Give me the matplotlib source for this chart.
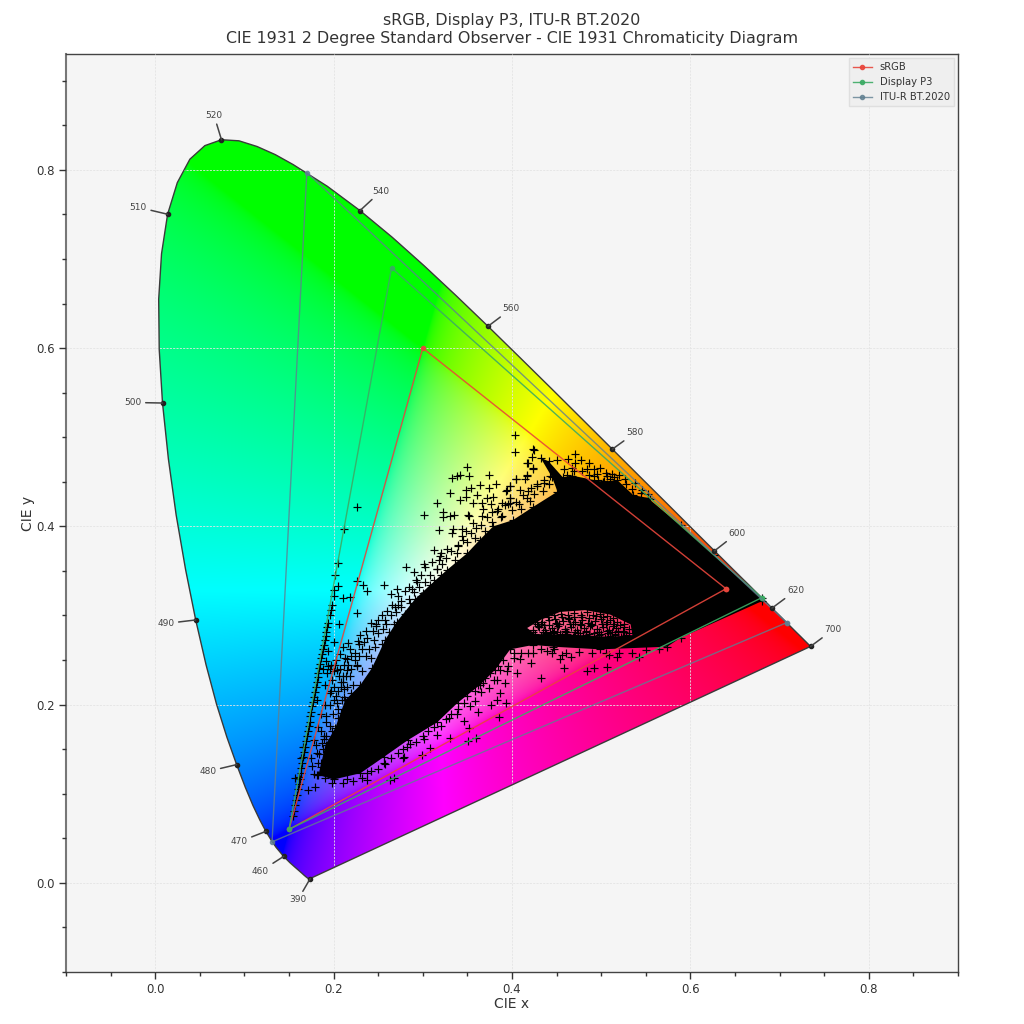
import numpy as np
import matplotlib
matplotlib.use("Agg")
import matplotlib.pyplot as plt
from matplotlib.patches import PathPatch, Polygon
from matplotlib.path import Path
from matplotlib.ticker import MultipleLocator

# CIE 1931 2 degree spectral locus, 390-700 nm
locus_x = [0.1738, 0.1736, 0.1733, 0.1730, 0.1726, 0.1721, 0.1714, 0.1703, 0.1689, 0.1669, 0.1644,
           0.1611, 0.1566, 0.1510, 0.1440, 0.1355, 0.1302, 0.1241, 0.1173, 0.1096, 0.1010, 0.0913, 0.0803,
           0.0687, 0.0570, 0.0454, 0.0340, 0.0235, 0.0148,
           0.0082, 0.0045, 0.0039, 0.0071, 0.0139, 0.0248, 0.0389, 0.0557, 0.0743, 0.0939, 0.1142, 0.1346,
           0.1547, 0.1929, 0.2296, 0.2658, 0.3016,
           0.3373, 0.3731, 0.4087, 0.4441, 0.4788, 0.5125, 0.5448, 0.5752, 0.6029, 0.6270, 0.6482,
           0.6658, 0.6801, 0.6915, 0.7006, 0.7079, 0.7140, 0.7190, 0.7230, 0.7260, 0.7283, 0.7300,
           0.7311, 0.7320, 0.7327, 0.7334, 0.7340, 0.7344, 0.7346, 0.7347]
locus_y = [0.0049, 0.0049, 0.0048, 0.0048, 0.0048, 0.0048, 0.0051, 0.0058, 0.0069, 0.0086, 0.0109,
           0.0138, 0.0177, 0.0227, 0.0297, 0.0399, 0.0477, 0.0578, 0.0706, 0.0868, 0.1073, 0.1327, 0.1637,
           0.2007, 0.2447, 0.2950, 0.3519, 0.4127, 0.4756,
           0.5384, 0.5985, 0.6548, 0.7059, 0.7502, 0.7857, 0.8120, 0.8272, 0.8338, 0.8326, 0.8262, 0.8171,
           0.8059, 0.7816, 0.7543, 0.7243, 0.6923,
           0.6589, 0.6245, 0.5896, 0.5547, 0.5202, 0.4866, 0.4544, 0.4242, 0.3965, 0.3725, 0.3514,
           0.3340, 0.3197, 0.3083, 0.2993, 0.2920, 0.2859, 0.2809, 0.2770, 0.2740, 0.2717, 0.2700,
           0.2689, 0.2680, 0.2673, 0.2666, 0.2660, 0.2656, 0.2654, 0.2653]

# labelled wavelengths: point on the locus and where the text sits
wl_labels = [390, 460, 470, 480, 490, 500, 510, 520, 540, 560, 580, 600, 620, 700]
wl_x = [0.1738, 0.1440, 0.1241, 0.0913, 0.0454, 0.0082, 0.0139, 0.0743, 0.2296, 0.3731, 0.5125, 0.6270, 0.6915, 0.7347]
wl_y = [0.0049, 0.0297, 0.0578, 0.1327, 0.2950, 0.5384, 0.7502, 0.8338, 0.7543, 0.6245, 0.4866, 0.3725, 0.3083, 0.2653]
wl_text_x = [0.160, 0.118, 0.094, 0.059, 0.012, -0.025, -0.019, 0.066, 0.253, 0.399, 0.538, 0.652, 0.718, 0.760]
wl_text_y = [-0.019, 0.013, 0.046, 0.125, 0.291, 0.539, 0.758, 0.861, 0.776, 0.644, 0.505, 0.392, 0.328, 0.284]

# colourspace primaries
srgb_x = [0.64, 0.30, 0.15, 0.64]
srgb_y = [0.33, 0.60, 0.06, 0.33]
p3_x = [0.68, 0.265, 0.15, 0.68]
p3_y = [0.32, 0.69, 0.06, 0.32]
bt2020_x = [0.708, 0.170, 0.131, 0.708]
bt2020_y = [0.292, 0.797, 0.046, 0.292]

# outline of the solid mass of image pixels
mass_x = [0.183, 0.191, 0.202, 0.213, 0.230, 0.243, 0.258, 0.271, 0.291, 0.308, 0.327, 0.350, 0.364, 0.379,
          0.401, 0.424, 0.451, 0.445, 0.432, 0.441, 0.457, 0.467, 0.502, 0.518, 0.536, 0.552, 0.589, 0.626,
          0.680, 0.680, 0.589, 0.574, 0.499, 0.446, 0.424, 0.398, 0.381, 0.364, 0.339, 0.316, 0.283, 0.256,
          0.230, 0.200]
mass_y = [0.121, 0.155, 0.174, 0.205, 0.222, 0.241, 0.273, 0.293, 0.318, 0.334, 0.351, 0.370, 0.385, 0.400,
          0.407, 0.422, 0.439, 0.455, 0.477, 0.473, 0.455, 0.457, 0.450, 0.452, 0.435, 0.432, 0.401, 0.368,
          0.320, 0.316, 0.275, 0.265, 0.262, 0.265, 0.267, 0.262, 0.239, 0.222, 0.202, 0.180, 0.160, 0.141,
          0.123, 0.116]
hole_x = [0.417, 0.432, 0.454, 0.482, 0.510, 0.533, 0.535, 0.510, 0.476, 0.443, 0.426]
hole_y = [0.286, 0.295, 0.304, 0.306, 0.301, 0.290, 0.278, 0.276, 0.278, 0.279, 0.279]

# single samples outside the mass
cross_x = [0.403, 0.403, 0.349, 0.374, 0.333, 0.338, 0.342, 0.352, 0.404, 0.364, 0.382, 0.374, 0.354, 0.348, 0.331,
           0.417, 0.425, 0.423, 0.417, 0.398, 0.394, 0.316, 0.342, 0.348, 0.356, 0.361, 0.372, 0.379, 0.366, 0.376,
           0.389, 0.398, 0.323, 0.323, 0.301, 0.331, 0.335, 0.351, 0.352, 0.368, 0.383, 0.356, 0.318, 0.334, 0.333,
           0.344, 0.344, 0.226, 0.212, 0.312, 0.320, 0.327, 0.319, 0.340, 0.281, 0.301, 0.310, 0.290, 0.303, 0.316,
           0.205, 0.202, 0.226, 0.233, 0.257, 0.238, 0.271, 0.264, 0.205, 0.200, 0.218, 0.210, 0.226, 0.206, 0.216,
           0.227, 0.207, 0.248, 0.259, 0.269, 0.288, 0.298, 0.294, 0.275, 0.192, 0.215, 0.196, 0.202,
           0.424, 0.422, 0.418, 0.451, 0.463, 0.471, 0.477, 0.424, 0.417, 0.405, 0.415, 0.486, 0.499, 0.492, 0.484,
           0.471, 0.467, 0.443, 0.458, 0.398, 0.393, 0.409, 0.421, 0.428, 0.436, 0.503, 0.514, 0.527, 0.538, 0.516,
           0.546, 0.552, 0.507, 0.492, 0.398, 0.408, 0.389, 0.396, 0.417,
           0.439, 0.447, 0.456, 0.466, 0.518, 0.509, 0.542, 0.492, 0.506, 0.484, 0.432, 0.409, 0.394, 0.402, 0.424,
           0.454, 0.458, 0.406, 0.421,
           0.278, 0.279, 0.299, 0.308, 0.237, 0.263, 0.268, 0.351, 0.360, 0.385, 0.331, 0.352, 0.346, 0.362, 0.338,
           0.329, 0.374, 0.365, 0.383, 0.392, 0.387, 0.383, 0.393, 0.376, 0.359, 0.301, 0.316, 0.179, 0.171, 0.157,
           0.161, 0.164, 0.166, 0.387, 0.368, 0.353,
           0.194, 0.198, 0.196, 0.204, 0.191, 0.196, 0.189, 0.181, 0.176, 0.181, 0.187, 0.208, 0.215, 0.219, 0.208,
           0.211, 0.204, 0.226, 0.200, 0.183, 0.215, 0.200, 0.193, 0.237, 0.256, 0.282]
cross_y = [0.502, 0.483, 0.467, 0.458, 0.454, 0.456, 0.458, 0.457, 0.453, 0.446, 0.448, 0.443, 0.443, 0.441, 0.438,
           0.471, 0.486, 0.464, 0.456, 0.445, 0.441, 0.426, 0.430, 0.433, 0.426, 0.435, 0.432, 0.433, 0.426, 0.425,
           0.426, 0.426, 0.416, 0.410, 0.413, 0.412, 0.413, 0.413, 0.412, 0.419, 0.417, 0.404, 0.396, 0.397, 0.393,
           0.397, 0.389, 0.422, 0.397, 0.373, 0.370, 0.375, 0.367, 0.379, 0.354, 0.358, 0.360, 0.349, 0.354, 0.352,
           0.359, 0.345, 0.339, 0.334, 0.334, 0.328, 0.330, 0.324, 0.333, 0.329, 0.321, 0.320, 0.303, 0.290, 0.269,
           0.271, 0.257, 0.290, 0.290, 0.309, 0.330, 0.345, 0.338, 0.316, 0.249, 0.251, 0.240, 0.244,
           0.487, 0.478, 0.471, 0.475, 0.476, 0.481, 0.475, 0.466, 0.458, 0.453, 0.453, 0.471, 0.466, 0.464, 0.464,
           0.471, 0.466, 0.456, 0.464, 0.445, 0.440, 0.441, 0.443, 0.447, 0.449, 0.451, 0.455, 0.453, 0.449, 0.447,
           0.441, 0.436, 0.456, 0.456, 0.432, 0.425, 0.412, 0.425, 0.432,
           0.260, 0.262, 0.256, 0.253, 0.253, 0.256, 0.253, 0.241, 0.242, 0.238, 0.230, 0.251, 0.238, 0.258, 0.258,
           0.251, 0.241, 0.236, 0.247,
           0.140, 0.141, 0.143, 0.151, 0.115, 0.115, 0.118, 0.159, 0.162, 0.186, 0.163, 0.174, 0.182, 0.192, 0.190,
           0.185, 0.219, 0.214, 0.228, 0.224, 0.213, 0.205, 0.202, 0.200, 0.204, 0.161, 0.166, 0.108, 0.104, 0.118,
           0.119, 0.140, 0.153, 0.239, 0.224, 0.198,
           0.243, 0.228, 0.213, 0.202, 0.187, 0.176, 0.161, 0.146, 0.131, 0.121, 0.157, 0.220, 0.239, 0.213, 0.191,
           0.232, 0.239, 0.243, 0.164, 0.134, 0.116, 0.119, 0.125, 0.123, 0.134, 0.153]

# samples hugging the edges of the mass
edge_x = [0.200, 0.205, 0.210, 0.212, 0.218, 0.222, 0.226, 0.220, 0.232, 0.236, 0.240, 0.232, 0.245, 0.242, 0.250,
          0.254, 0.248, 0.258, 0.262, 0.264, 0.270, 0.268, 0.276, 0.280, 0.284, 0.272, 0.290, 0.286, 0.296, 0.300,
          0.303, 0.308, 0.298, 0.312, 0.316, 0.320, 0.322, 0.326, 0.318, 0.332, 0.336, 0.340, 0.345, 0.338, 0.350,
          0.354, 0.348, 0.360, 0.358, 0.365, 0.370, 0.372, 0.378, 0.366, 0.384, 0.388, 0.392, 0.400, 0.398, 0.405,
          0.412, 0.410, 0.418, 0.425, 0.428, 0.435, 0.436, 0.442, 0.420, 0.378,
          0.470, 0.478, 0.486, 0.495, 0.505, 0.512, 0.520, 0.528, 0.535, 0.545, 0.555, 0.462, 0.496, 0.510,
          0.210, 0.222, 0.232, 0.242, 0.250, 0.258, 0.264, 0.272, 0.278, 0.286, 0.292, 0.300, 0.306, 0.312, 0.320,
          0.326, 0.332, 0.340, 0.346, 0.350, 0.358, 0.362, 0.370, 0.375, 0.380, 0.384, 0.390, 0.395, 0.402, 0.410,
          0.418, 0.432, 0.445, 0.460, 0.475, 0.490, 0.505, 0.520, 0.535, 0.550, 0.565,
          0.186, 0.192, 0.199, 0.205, 0.196, 0.200, 0.190, 0.206, 0.212, 0.218, 0.224, 0.210, 0.230, 0.236, 0.242,
          0.228, 0.186, 0.190, 0.198, 0.178, 0.175, 0.180, 0.183, 0.186, 0.184, 0.178, 0.181, 0.190, 0.188, 0.194,
          0.200,
          0.193, 0.197, 0.203, 0.207, 0.213, 0.209, 0.215, 0.203, 0.197, 0.192, 0.198, 0.188, 0.193, 0.199, 0.204,
          0.186, 0.192, 0.205, 0.214, 0.220, 0.224, 0.228, 0.234, 0.238, 0.244, 0.250, 0.254, 0.260, 0.266, 0.272,
          0.280, 0.285, 0.292, 0.255, 0.246, 0.216, 0.212, 0.208, 0.200, 0.189]
edge_y = [0.205, 0.215, 0.225, 0.208, 0.232, 0.222, 0.245, 0.255, 0.238, 0.255, 0.262, 0.262, 0.272, 0.252, 0.280,
          0.268, 0.288, 0.295, 0.282, 0.300, 0.304, 0.290, 0.310, 0.302, 0.318, 0.312, 0.326, 0.314, 0.332, 0.325,
          0.338, 0.345, 0.322, 0.340, 0.352, 0.345, 0.358, 0.365, 0.362, 0.372, 0.362, 0.378, 0.385, 0.370, 0.382,
          0.392, 0.395, 0.398, 0.387, 0.402, 0.395, 0.410, 0.416, 0.412, 0.420, 0.410, 0.424, 0.418, 0.432, 0.427,
          0.435, 0.420, 0.440, 0.436, 0.445, 0.440, 0.452, 0.447, 0.428, 0.405,
          0.462, 0.462, 0.458, 0.459, 0.460, 0.459, 0.458, 0.447, 0.442, 0.437, 0.431, 0.458, 0.452, 0.453,
          0.112, 0.114, 0.118, 0.125, 0.128, 0.133, 0.140, 0.146, 0.150, 0.156, 0.158, 0.165, 0.170, 0.175, 0.176,
          0.184, 0.190, 0.195, 0.202, 0.210, 0.215, 0.222, 0.230, 0.236, 0.228, 0.243, 0.250, 0.243, 0.252, 0.258,
          0.258, 0.262, 0.258, 0.258, 0.259, 0.258, 0.258, 0.258, 0.258, 0.261, 0.262,
          0.170, 0.165, 0.190, 0.185, 0.200, 0.220, 0.200, 0.232, 0.245, 0.262, 0.258, 0.265, 0.278, 0.283, 0.292,
          0.268, 0.130, 0.118, 0.112, 0.122, 0.140, 0.155, 0.175, 0.190, 0.145, 0.160, 0.205, 0.222, 0.240, 0.260,
          0.270,
          0.235, 0.245, 0.250, 0.240, 0.252, 0.205, 0.220, 0.210, 0.215, 0.180, 0.170, 0.150, 0.145, 0.155, 0.165,
          0.135, 0.128, 0.195, 0.232, 0.240, 0.250, 0.255, 0.270, 0.275, 0.283, 0.295, 0.300, 0.305, 0.312, 0.322,
          0.328, 0.332, 0.340, 0.285, 0.265, 0.245, 0.218, 0.225, 0.238, 0.165]

# narrow band of samples next to the Display P3 blue-green edge
band_x = [0.155, 0.156, 0.157, 0.158, 0.159, 0.160, 0.161, 0.162, 0.163, 0.164, 0.165, 0.166, 0.167, 0.168, 0.169,
          0.170, 0.171, 0.172, 0.173, 0.174, 0.175, 0.176, 0.177, 0.178, 0.179, 0.180, 0.181, 0.182, 0.183, 0.184,
          0.185, 0.186, 0.187, 0.188, 0.189, 0.190, 0.191, 0.192, 0.193, 0.194, 0.196, 0.197, 0.198, 0.200]
band_y = [0.075, 0.081, 0.087, 0.093, 0.099, 0.105, 0.111, 0.117, 0.123, 0.129, 0.135, 0.141, 0.147, 0.153, 0.159,
          0.165, 0.170, 0.176, 0.181, 0.187, 0.192, 0.198, 0.203, 0.209, 0.214, 0.220, 0.225, 0.231, 0.236, 0.241,
          0.246, 0.252, 0.257, 0.262, 0.267, 0.272, 0.277, 0.282, 0.287, 0.292, 0.300, 0.306, 0.312, 0.322]

# samples over the pink gap
gap_x = [0.420, 0.426, 0.432, 0.438, 0.444, 0.450, 0.456, 0.462, 0.468, 0.474, 0.480, 0.486, 0.492, 0.498, 0.504,
         0.510, 0.516, 0.522, 0.528, 0.423, 0.430, 0.437, 0.445, 0.452, 0.459, 0.466, 0.473, 0.481, 0.488, 0.495,
         0.502, 0.509, 0.517, 0.524, 0.531, 0.434, 0.441, 0.449, 0.457, 0.464, 0.471, 0.478, 0.485, 0.493, 0.500,
         0.507, 0.514, 0.521, 0.447, 0.455, 0.463, 0.470, 0.477, 0.484, 0.491, 0.499, 0.506, 0.513, 0.428, 0.436,
         0.443, 0.451, 0.460, 0.468, 0.476, 0.483, 0.490, 0.497, 0.505, 0.512, 0.519, 0.526,
         0.424, 0.429, 0.435, 0.441, 0.447, 0.453, 0.459, 0.465, 0.471, 0.477, 0.483, 0.489, 0.495, 0.501, 0.507,
         0.513, 0.519, 0.525, 0.531, 0.426, 0.433, 0.440, 0.448, 0.456, 0.463, 0.470, 0.478, 0.486, 0.494, 0.502,
         0.510, 0.518, 0.526, 0.438, 0.446, 0.454, 0.462, 0.469, 0.476, 0.483, 0.492, 0.500, 0.508, 0.516]
gap_y = [0.276, 0.279, 0.277, 0.280, 0.278, 0.281, 0.277, 0.279, 0.276, 0.280, 0.277, 0.279, 0.276, 0.278, 0.275,
         0.277, 0.279, 0.276, 0.278, 0.284, 0.287, 0.284, 0.286, 0.288, 0.285, 0.287, 0.284, 0.286, 0.288, 0.285,
         0.287, 0.284, 0.286, 0.283, 0.285, 0.293, 0.295, 0.292, 0.294, 0.296, 0.293, 0.295, 0.292, 0.294, 0.296,
         0.293, 0.291, 0.289, 0.300, 0.302, 0.300, 0.303, 0.301, 0.304, 0.300, 0.302, 0.299, 0.297, 0.290, 0.289,
         0.282, 0.291, 0.282, 0.291, 0.290, 0.282, 0.289, 0.282, 0.290, 0.281, 0.283, 0.281,
         0.282, 0.288, 0.281, 0.289, 0.283, 0.290, 0.283, 0.291, 0.282, 0.289, 0.283, 0.291, 0.282, 0.290, 0.283,
         0.288, 0.282, 0.287, 0.280, 0.293, 0.290, 0.298, 0.296, 0.298, 0.297, 0.298, 0.298, 0.297, 0.299, 0.298,
         0.295, 0.293, 0.291, 0.279, 0.280, 0.279, 0.281, 0.278, 0.280, 0.278, 0.280, 0.279, 0.280, 0.278]

fig = plt.figure(figsize=(10.24, 10.24), dpi=100)
ax = fig.add_axes([66 / 1024, 1 - 972 / 1024, 892 / 1024, 918 / 1024])
ax.set_facecolor("#f5f5f5")

# chromaticity colours, XYZ at Y=1 to sRGB, normalised then encoded
gx, gy = np.meshgrid(np.linspace(-0.1, 0.9, 900), np.linspace(-0.1, 0.93, 930))
gy_safe = np.maximum(gy, 1e-3)
XYZ = np.dstack([gx / gy_safe, np.ones_like(gx), (1 - gx - gy) / gy_safe])
M = np.array([[3.2406, -1.5372, -0.4986], [-0.9689, 1.8758, 0.0415], [0.0557, -0.2040, 1.0570]])
rgb = XYZ @ M.T
rgb = np.clip(rgb / rgb.max(axis=-1, keepdims=True), 0, 1)
rgb = np.where(rgb <= 0.0031308, 12.92 * rgb, 1.055 * rgb ** (1 / 2.4) - 0.055)

im = ax.imshow(rgb, origin="lower", extent=(-0.1, 0.9, -0.1, 0.93), aspect="auto", zorder=1, interpolation="bilinear")
outline = Polygon(np.column_stack([locus_x, locus_y]), closed=True, transform=ax.transData)
im.set_clip_path(outline)

# locus outline
ax.plot(locus_x + locus_x[:1], locus_y + locus_y[:1], color="#3a3a3a", lw=1.0, zorder=3)

# mass of samples, the gap is wound the other way so it stays open
verts = list(zip(mass_x, mass_y)) + [(mass_x[0], mass_y[0])] + list(zip(hole_x[::-1], hole_y[::-1])) + [(hole_x[-1], hole_y[-1])]
codes = ([Path.MOVETO] + [Path.LINETO] * len(mass_x) + [Path.MOVETO] + [Path.LINETO] * len(hole_x))
ax.add_patch(PathPatch(Path(verts, codes), facecolor="black", edgecolor="none", zorder=4))

for xs, ys in [(cross_x, cross_y), (edge_x, edge_y), (band_x, band_y), (gap_x, gap_y), (mass_x, mass_y)]:
    ax.scatter(xs, ys, marker="+", s=28, c="black", linewidths=0.85, zorder=4)

# colourspace triangles
ax.plot(srgb_x, srgb_y, color="#e8463c", lw=1.0, marker="o", ms=3, alpha=0.9, label="sRGB", zorder=6)
ax.plot(p3_x, p3_y, color="#3cab64", lw=1.0, marker="o", ms=3, alpha=0.9, label="Display P3", zorder=6)
ax.plot(bt2020_x, bt2020_y, color="#5f7f90", lw=1.0, marker="o", ms=3, alpha=0.8, label="ITU-R BT.2020", zorder=6)

# wavelength labels
ax.scatter(wl_x, wl_y, s=9, c="#222222", zorder=7)
for wl, px, py, tx, ty in zip(wl_labels, wl_x, wl_y, wl_text_x, wl_text_y):
    ax.annotate(str(wl), xy=(px, py), xytext=(tx, ty), fontsize=6.5, color="#444444", ha="center", va="center",
                arrowprops=dict(arrowstyle="-", color="#444444", lw=1.1, shrinkA=1, shrinkB=0), zorder=7)

ax.set_xlim(-0.1, 0.9)
ax.set_ylim(-0.1, 0.93)
ax.xaxis.set_minor_locator(MultipleLocator(0.05))
ax.yaxis.set_minor_locator(MultipleLocator(0.05))
ax.set_xticks([0.0, 0.2, 0.4, 0.6, 0.8])
ax.set_yticks([0.0, 0.2, 0.4, 0.6, 0.8])
ax.tick_params(which="major", length=5, width=1.0, labelsize=8.5, colors="#333333", pad=3)
ax.tick_params(which="minor", length=3, width=1.0, colors="#333333")
ax.grid(True, which="major", color="#e4e4e4", ls=(0, (2.5, 1.5)), lw=0.6, zorder=8)
ax.set_axisbelow(False)
for side in ["top", "right", "bottom"]:
    ax.spines[side].set_color("#444444")
    ax.spines[side].set_linewidth(1.0)
ax.spines["left"].set_color("#777777")
ax.spines["left"].set_linewidth(1.5)

ax.set_xlabel("CIE x", fontsize=10, color="#333333", labelpad=1)
ax.set_ylabel("CIE y", fontsize=10, color="#333333", labelpad=1)
ax.set_title("sRGB, Display P3, ITU-R BT.2020\nCIE 1931 2 Degree Standard Observer - CIE 1931 Chromaticity Diagram",
             fontsize=11.4, color="#333333", pad=8, linespacing=1.25)

leg = ax.legend(loc="upper right", fontsize=7.2, frameon=True, facecolor="#efefef", edgecolor="#dddddd",
                framealpha=0.9, fancybox=False, borderaxespad=0.4, labelcolor="#333333", handlelength=1.9)
leg.set_zorder(9)

plt.savefig("out.png", dpi=100)
